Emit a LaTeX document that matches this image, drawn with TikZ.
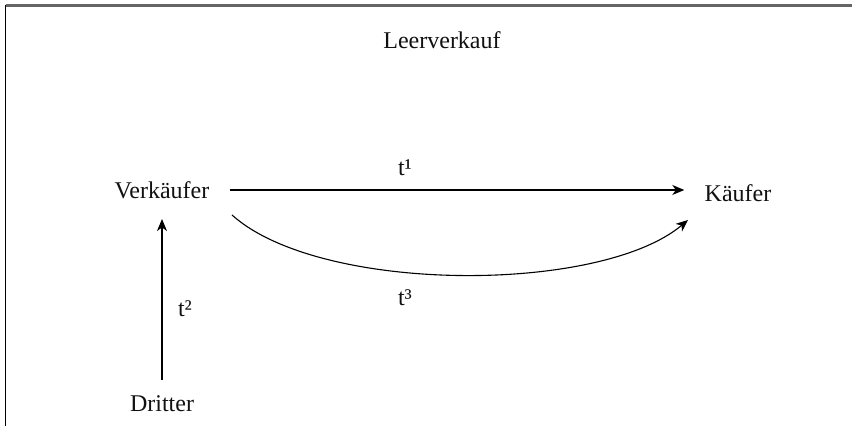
\documentclass[tikz,border=0pt]{standalone}
\usepackage{fontspec}
\setmainfont{Liberation Serif}
\usepackage{xcolor}
\usepackage{tikz}
\usetikzlibrary{positioning,arrows.meta,calc}
\definecolor{FrameGray}{HTML}{666666}
\definecolor{TextDark}{HTML}{111111}

\begin{document}
\begin{tikzpicture}[x=0.5pt,y=-0.5pt,
    party/.style={inner sep=10pt, text=TextDark, font=\fontsize{12}{14}\selectfont},
    lbl/.style={inner sep=0pt, text=TextDark, font=\fontsize{12}{14}\selectfont},
    flow/.style={line width=0.55pt, -{Stealth[length=6pt,width=5pt,inset=1.8pt]}}]
  \useasboundingbox (0,0) rectangle (852,426);
  % frame
  \draw[FrameGray, line width=1.2pt] (5.5,5.5) -- (852,5.5);
  \draw[black, line width=0.6pt] (5.5,5.5) -- (5.5,426);

  \node[lbl] (title) at (442,40) {Leerverkauf};

  \node[party] (verk) at (162,190) {Verkäufer};
  \node[party] (kauf) at (738,193) {Käufer};
  \node[party, inner sep=8pt] (dritt) at (162,404) {Dritter};

  \draw[flow] (verk.east) -- (verk.east -| kauf.west);
  \draw[flow] (dritt.north) -- (verk.south);
  \draw[flow] (232,215) .. controls (320,294) and (600,294) .. (688,220);
  \node[lbl] (t1) at (405,168) {t¹};
  \node[lbl] (t2) at (185,309) {t²};
  \node[lbl] (t3) at (405,298) {t³};
\end{tikzpicture}
\end{document}
